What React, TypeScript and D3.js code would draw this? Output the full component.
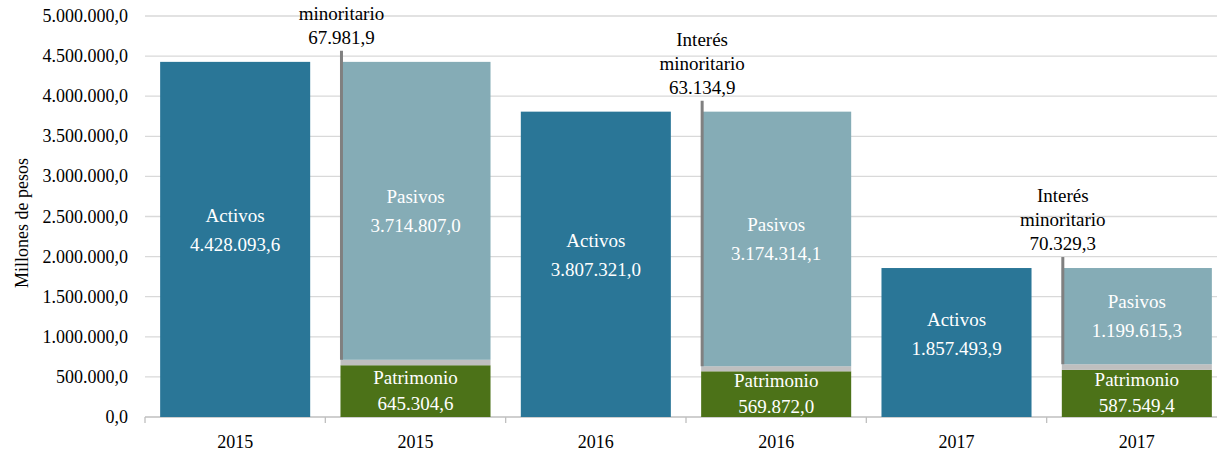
import React from "react";
import * as d3 from "d3";

const categories = ["2015", "2015", "2016", "2016", "2017", "2017"];
const activos: (number | null)[] = [4428093.6, null, 3807321.0, null, 1857493.9, null];
const patrimonio: (number | null)[] = [null, 645304.6, null, 569872.0, null, 587549.4];
const interes: (number | null)[] = [null, 67981.9, null, 63134.9, null, 70329.3];
const pasivos: (number | null)[] = [null, 3714807.0, null, 3174314.1, null, 1199615.3];
const yTicks = [0, 500000, 1000000, 1500000, 2000000, 2500000, 3000000, 3500000, 4000000, 4500000, 5000000];

const W = 1217;
const H = 453;
const FONT = "'Times New Roman', Tinos, 'Liberation Serif', 'DejaVu Serif', serif";
const C_ACT = "#2A7697";
const C_PAS = "#85ACB6";
const C_PAT = "#4C7218";
const C_INT = "#BFBFBF";

const locale = d3.formatLocale({ decimal: ",", thousands: ".", grouping: [3], currency: ["", ""] });
const fmt = locale.format(",.1f");

const T = (props: any) => <text style={{ fontFamily: FONT }} {...props} />;

export default function App() {
  const x = d3
    .scaleBand<number>()
    .domain(categories.map((_, i) => i))
    .range([145, 1227])
    .paddingInner(0.168)
    .paddingOuter(0.084);
  const y = d3.scaleLinear().domain([0, 5000000]).range([417, 16]);
  const bw = x.bandwidth();
  const step = x.step();

  const marks: React.ReactNode[] = [];
  categories.forEach((_, i) => {
    const x0 = x(i)!;
    const cx = x0 + bw / 2;
    const a = activos[i];
    if (a != null) {
      const top = y(a);
      const mid = (top + y(0)) / 2;
      marks.push(
        <g key={"a" + i}>
          <rect x={x0} y={top} width={bw} height={y(0) - top} fill={C_ACT} />
          <T x={cx} y={mid - 17} textAnchor="middle" fill="#fff" fontSize={19}>Activos</T>
          <T x={cx} y={mid + 12} textAnchor="middle" fill="#fff" fontSize={19}>{fmt(a)}</T>
        </g>
      );
    }
    const p = patrimonio[i];
    const m = interes[i];
    const l = pasivos[i];
    if (p != null && m != null && l != null) {
      const pTop = y(p);
      const mTop = y(p + m);
      const lTop = y(p + m + l);
      const pMid = (pTop + y(0)) / 2;
      const lMid = (lTop + mTop) / 2;
      const lineTop = lTop - 11;
      const labelLines = ["Interés", "minoritario", fmt(m)];
      marks.push(
        <g key={"s" + i}>
          <rect x={x0} y={pTop} width={bw} height={y(0) - pTop} fill={C_PAT} />
          <rect x={x0} y={mTop} width={bw} height={pTop - mTop} fill={C_INT} />
          <rect x={x0} y={lTop} width={bw} height={mTop - lTop} fill={C_PAS} />
          <T x={cx} y={pMid - 7} textAnchor="middle" fill="#fff" fontSize={19}>Patrimonio</T>
          <T x={cx} y={pMid + 19} textAnchor="middle" fill="#fff" fontSize={19}>{fmt(p)}</T>
          <T x={cx} y={lMid - 8} textAnchor="middle" fill="#fff" fontSize={19}>Pasivos</T>
          <T x={cx} y={lMid + 21} textAnchor="middle" fill="#fff" fontSize={19}>{fmt(l)}</T>
          <line x1={x0 + 1} x2={x0 + 1} y1={mTop} y2={lineTop} stroke="#808080" strokeWidth={3} />
          {labelLines.map((s, k) => {
            const by = lineTop - 7 - (labelLines.length - 1 - k) * 24;
            return by > 4 ? (
              <T key={k} x={x0 + 1} y={by} textAnchor="middle" fill="#000" fontSize={19}>{s}</T>
            ) : null;
          })}
        </g>
      );
    }
  });

  return (
    <svg
      width={W}
      height={H}
      style={{ position: "absolute", left: 0, top: 0, background: "#fff", fontFamily: FONT }}
    >
      {yTicks.map((t) => (
        <g key={t}>
          <line x1={145} x2={W} y1={y(t)} y2={y(t)} stroke={t === 0 ? "#BFBFBF" : "#D9D9D9"} strokeWidth={1.3} />
          <T x={128} y={y(t) + 6} textAnchor="end" fontSize={18} fill="#000">{fmt(t)}</T>
        </g>
      ))}
      {d3.range(categories.length + 1).map((k) => {
        const xb = 145 + k * step;
        return <line key={"tk" + k} x1={xb} x2={xb} y1={417} y2={423} stroke="#BFBFBF" strokeWidth={1.3} />;
      })}
      {marks}
      {categories.map((c, i) => (
        <T key={"c" + i} x={x(i)! + bw / 2} y={448} textAnchor="middle" fontSize={18} fill="#000">{c}</T>
      ))}
      <T transform={`translate(28,${223}) rotate(-90)`} textAnchor="middle" fontSize={18} fill="#000">Millones de pesos</T>
    </svg>
  );
}
